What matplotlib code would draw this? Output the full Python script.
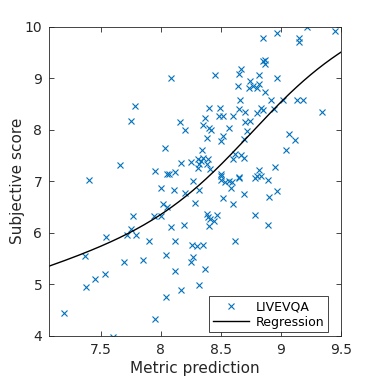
import numpy as np
import matplotlib
matplotlib.use('Agg')
import matplotlib.pyplot as plt

# metric prediction (x) and subjective score (y)
metric = [9.22, 9.45, 8.97, 8.85, 9.15, 9.15, 8.85, 8.87, 8.87, 8.45,
          8.67, 8.65, 8.82, 8.97, 8.74, 8.64, 8.73, 8.77, 8.80, 8.82,
          8.87, 8.66, 8.92, 9.02, 9.13, 9.18, 8.40, 8.49, 8.65, 8.70,
          8.83, 8.85, 8.94, 9.34, 8.80, 8.37, 8.48, 8.52, 8.60, 8.35,
          8.16, 8.70, 8.74, 8.40, 8.42, 8.20, 8.57, 8.72, 8.38, 8.52,
          8.50, 8.69, 9.07, 9.12, 9.04, 8.03, 8.34, 8.62, 8.67, 8.69,
          8.60, 8.31, 8.33, 8.39, 8.38, 8.32, 8.50, 8.65, 8.80, 8.82,
          8.83, 8.78, 8.89, 8.95, 8.97, 8.69, 8.90, 8.78, 8.89, 8.08,
          7.78, 7.75, 7.66, 7.95, 8.05, 8.07, 8.12, 8.17, 8.25, 8.35,
          7.40, 8.27, 8.00, 8.11, 8.20, 8.32, 8.02, 8.05, 8.28, 7.77,
          7.94, 8.00, 7.75, 7.72, 7.79, 7.54, 8.08, 8.19, 7.90, 8.12,
          8.26, 8.30, 8.35, 7.37, 8.04, 8.27, 7.69, 7.85, 8.25, 8.12,
          8.37, 7.53, 7.45, 7.38, 8.32, 8.17, 8.04, 7.19, 7.95, 7.60,
          8.38, 8.39, 8.41, 8.44, 8.47, 8.40, 8.50, 8.50, 8.53, 8.57,
          8.59, 8.65, 8.58, 8.52, 8.60, 8.62, 8.31, 8.41]
score = [9.99, 9.92, 9.87, 9.79, 9.79, 9.71, 9.34, 9.36, 9.28, 9.06,
         9.18, 9.08, 9.06, 9.01, 8.95, 8.85, 8.81, 8.85, 8.81, 8.89,
         8.73, 8.58, 8.58, 8.58, 8.58, 8.58, 8.42, 8.42, 8.40, 8.34,
         8.42, 8.38, 8.40, 8.34, 8.32, 8.23, 8.26, 8.26, 8.26, 8.09,
         8.15, 8.15, 8.17, 8.03, 7.99, 7.99, 8.03, 7.97, 7.83, 7.87,
         7.78, 7.81, 7.91, 7.80, 7.60, 7.64, 7.60, 7.52, 7.50, 7.46,
         7.44, 7.44, 7.40, 7.44, 7.33, 7.33, 7.13, 7.09, 7.11, 7.21,
         7.11, 7.07, 7.03, 7.27, 6.80, 6.76, 6.70, 6.35, 6.14, 9.01,
         8.46, 8.17, 7.31, 7.19, 7.13, 7.13, 7.17, 7.35, 7.37, 7.46,
         7.03, 7.01, 6.86, 6.82, 6.78, 6.82, 6.55, 6.49, 6.58, 6.32,
         6.32, 6.32, 6.08, 5.96, 5.96, 5.92, 6.12, 6.15, 5.84, 5.84,
         5.76, 5.74, 5.76, 5.55, 5.57, 5.53, 5.43, 5.47, 5.43, 5.26,
         5.30, 5.20, 5.10, 4.94, 4.98, 4.89, 4.75, 4.44, 4.32, 3.98,
         6.37, 6.31, 6.27, 6.23, 6.35, 6.13, 7.11, 7.03, 6.99, 7.01,
         6.99, 7.07, 6.86, 6.68, 6.56, 5.84, 7.25, 7.23]

# logistic regression parameters (lower, span, centre, scale, linear slope)
fit_params = [5.98, 2.82, 8.75, 0.40, 0.72]

xlim = (7.07, 9.5)
ylim = (4, 10)
xticks = [7.5, 8, 8.5, 9, 9.5]
yticks = [4, 5, 6, 7, 8, 9, 10]


def regression(x, p):
    lo, span, c, s, d = p
    return lo + span / (1 + np.exp(-(x - c) / s)) + d * (x - 8)


plt.rcParams['font.family'] = ['DejaVu Sans']
fig = plt.figure(figsize=(3.78, 3.78), dpi=100)
ax = fig.add_axes([0.1304, 0.1119, 0.7716, 0.8175])

ax.plot(metric, score, 'x', color='#0072BD', markersize=5, mew=0.8,
        label='LIVEVQA')
xs = np.linspace(xlim[0], xlim[1], 300)
ax.plot(xs, regression(xs, fit_params), '-', color='black', lw=1,
        label='Regression')

ax.set_xlim(*xlim)
ax.set_ylim(*ylim)
ax.set_xticks(xticks)
ax.set_xticklabels(['7.5', '8', '8.5', '9', '9.5'])
ax.set_yticks(yticks)
ax.tick_params(direction='in', top=True, right=True, length=3.5, width=0.6,
               labelsize=10, colors='#262626', pad=5)
for sp in ax.spines.values():
    sp.set_linewidth(0.6)
    sp.set_color('#262626')

ax.set_xlabel('Metric prediction', fontsize=11, color='#262626', labelpad=3)
ax.set_ylabel('Subjective score', fontsize=11, color='#262626', labelpad=0)

leg = ax.legend(loc='lower right', bbox_to_anchor=(0.955, 0.011), fontsize=9,
                fancybox=False, edgecolor='#262626', framealpha=1,
                handlelength=2.9, handletextpad=0.5, borderaxespad=0,
                borderpad=0.3, labelspacing=0.2)
leg.get_frame().set_linewidth(0.6)

fig.savefig('out.png', dpi=100)
plt.close()
